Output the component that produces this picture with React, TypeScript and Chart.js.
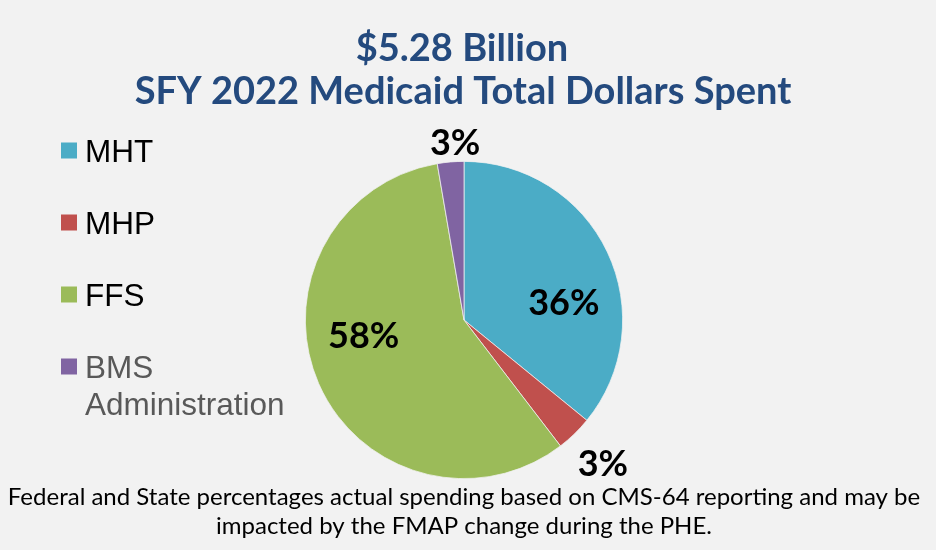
import React, { useEffect, useRef } from "react";
import { Chart, registerables } from "chart.js";

Chart.register(...registerables);

const categories = ["MHT", "MHP", "FFS", "BMS Administration"];
const values = [35.9, 3.7, 57.7, 2.7];
const valueLabels = ["36%", "3%", "58%", "3%"];
const colors = ["#4BACC6", "#C0504D", "#9BBB59", "#8064A2"];
const legendTextColors = ["#000000", "#000000", "#000000", "#595959"];
const titleLines = ["$5.28 Billion", "SFY 2022 Medicaid Total Dollars Spent"];
const footerLines = [
  "Federal and State percentages actual spending based on CMS-64 reporting and may be",
  "impacted by the FMAP change during the PHE.",
];

const BG = "#F2F2F2";

const decorPlugin = {
  id: "decor",
  beforeDraw(chart: any) {
    const { ctx, width, height } = chart;
    ctx.save();
    ctx.fillStyle = BG;
    ctx.fillRect(0, 0, width, height);
    ctx.restore();
  },
  afterDraw(chart: any) {
    const { ctx } = chart;
    ctx.save();
    // Title
    ctx.fillStyle = "#244A7E";
    ctx.font = "bold 38px Lato";
    ctx.textAlign = "center";
    ctx.textBaseline = "alphabetic";
    ctx.fillText(titleLines[0], 462, 61);
    ctx.fillText(titleLines[1], 463, 104);

    // Footer
    ctx.fillStyle = "#000000";
    ctx.font = "24px Lato";
    ctx.fillText(footerLines[0], 464, 505);
    ctx.fillText(footerLines[1], 464, 534);

    // Legend
    ctx.textAlign = "left";
    ctx.font = "31.5px 'Liberation Sans', Arial, sans-serif";
    categories.forEach((c, i) => {
      const cy = 150.5 + i * 72;
      ctx.fillStyle = colors[i];
      ctx.fillRect(61, cy - 8, 16, 16);
      ctx.fillStyle = legendTextColors[i];
      const lines = c.split(" ");
      lines.forEach((ln, j) => {
        ctx.fillText(ln, 85, cy + 11 + j * 37);
      });
    });

    // Data labels
    const meta = chart.getDatasetMeta(0);
    ctx.fillStyle = "#000000";
    ctx.font = "bold 36px Lato";
    ctx.textAlign = "center";
    const total = values.reduce((a, b) => a + b, 0);
    meta.data.forEach((arc: any, i: number) => {
      const p = arc.getProps(["x", "y", "startAngle", "endAngle", "outerRadius"], true);
      const mid = (p.startAngle + p.endAngle) / 2;
      const small = values[i] / total < 0.05;
      let r: number;
      let ang = mid;
      if (small) {
        r = p.outerRadius + (i === 1 ? 41 : 20);
        ang = mid + (i === 3 ? 0.035 : 0);
      } else {
        r = p.outerRadius * 0.64;
        ang = mid + 0.26;
      }
      const x = p.x + Math.cos(ang) * r;
      const y = p.y + Math.sin(ang) * r;
      ctx.fillText(valueLabels[i], x, y + 13);
    });
    ctx.restore();
  },
};

export default function App() {
  const ref = useRef<HTMLCanvasElement | null>(null);
  useEffect(() => {
    document.body.style.margin = "0";
    const canvas = ref.current!;
    const chart = new Chart(canvas, {
      type: "pie",
      data: {
        labels: categories,
        datasets: [
          {
            data: values,
            backgroundColor: colors,
            borderColor: "#F2F2F2",
            borderWidth: 0.75,
          },
        ],
      },
      options: {
        responsive: false,
        animation: false,
        layout: { padding: { top: 161, bottom: 71, left: 305, right: 313 } },
        plugins: {
          legend: { display: false },
          tooltip: { enabled: false },
          title: { display: false },
        },
      },
      plugins: [decorPlugin],
    });
    return () => chart.destroy();
  }, []);
  return (
    <div style={{ width: 936, height: 550 }}>
      <canvas ref={ref} width={936} height={550} style={{ display: "block" }} />
    </div>
  );
}
